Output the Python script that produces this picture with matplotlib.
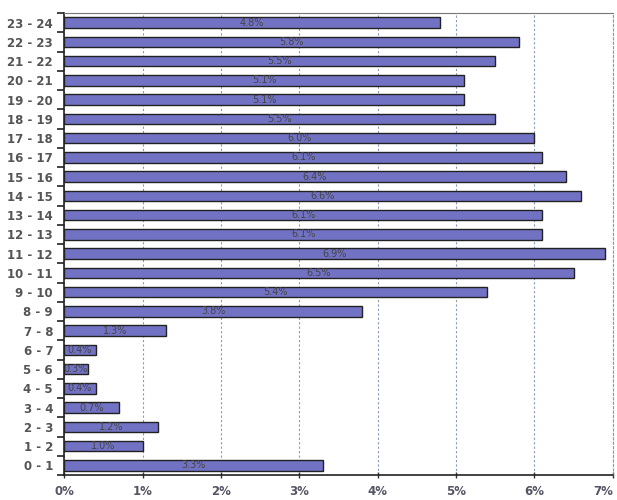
import matplotlib
matplotlib.use("Agg")
import matplotlib.pyplot as plt
import numpy as np
from matplotlib.ticker import FixedLocator

categories = ["0 - 1", "1 - 2", "2 - 3", "3 - 4", "4 - 5", "5 - 6", "6 - 7", "7 - 8",
              "8 - 9", "9 - 10", "10 - 11", "11 - 12", "12 - 13", "13 - 14", "14 - 15",
              "15 - 16", "16 - 17", "17 - 18", "18 - 19", "19 - 20", "20 - 21",
              "21 - 22", "22 - 23", "23 - 24"]
values = [3.3, 1.0, 1.2, 0.7, 0.4, 0.3, 0.4, 1.3,
          3.8, 5.4, 6.5, 6.9, 6.1, 6.1, 6.6,
          6.4, 6.1, 6.0, 5.5, 5.1, 5.1,
          5.5, 5.8, 4.8]
x_ticks = [0, 1, 2, 3, 4, 5, 6, 7]
x_ticklabels = ["0%", "1%", "2%", "3%", "4%", "5%", "6%", "7%"]

fig = plt.figure(figsize=(6.17, 5.0), dpi=100)
ax = fig.add_axes([0.104, 0.05, 0.889, 0.924])

y = np.arange(len(categories))
ax.barh(y, values, height=0.55, color="#7272c4", edgecolor="#222222", linewidth=1.0, zorder=3)

for yi, v in zip(y, values):
    ax.text(v / 2, yi, f"{v:.1f}%", ha="center", va="center", fontsize=7,
            color="#444444", zorder=4)

ax.set_xlim(0, 7)
ax.set_ylim(-0.5, len(categories) - 0.5)
ax.set_xticks(x_ticks)
ax.set_xticklabels(x_ticklabels, fontsize=8.5, fontweight="bold", color="#555566")
ax.get_xticklabels()[-1].set_horizontalalignment("right")
ax.set_yticks(y)
ax.set_yticklabels(categories, fontsize=8.5, fontweight="bold", color="#555555")
ax.tick_params(axis="y", length=0, pad=8)
ax.yaxis.set_minor_locator(FixedLocator(np.arange(-0.5, len(categories), 1.0)))
ax.tick_params(axis="y", which="minor", length=5, width=1.2, color="#222222", direction="out")
ax.tick_params(axis="x", length=4, width=1, direction="inout", color="#333333", pad=5)

ax.grid(axis="x", linestyle=(0, (2, 2)), color="#8899bb", linewidth=0.8, zorder=0)
ax.spines["left"].set_color("#222222")
ax.spines["left"].set_linewidth(1.2)
ax.spines["bottom"].set_color("#222222")
ax.spines["bottom"].set_linewidth(1.2)
ax.spines["top"].set_color("#777777")
ax.spines["top"].set_linestyle((0, (3, 1)))
ax.spines["right"].set_color("#8899bb")
ax.spines["right"].set_linestyle((0, (2, 2)))
ax.spines["right"].set_linewidth(0.8)

fig.savefig("out.png", dpi=100)
